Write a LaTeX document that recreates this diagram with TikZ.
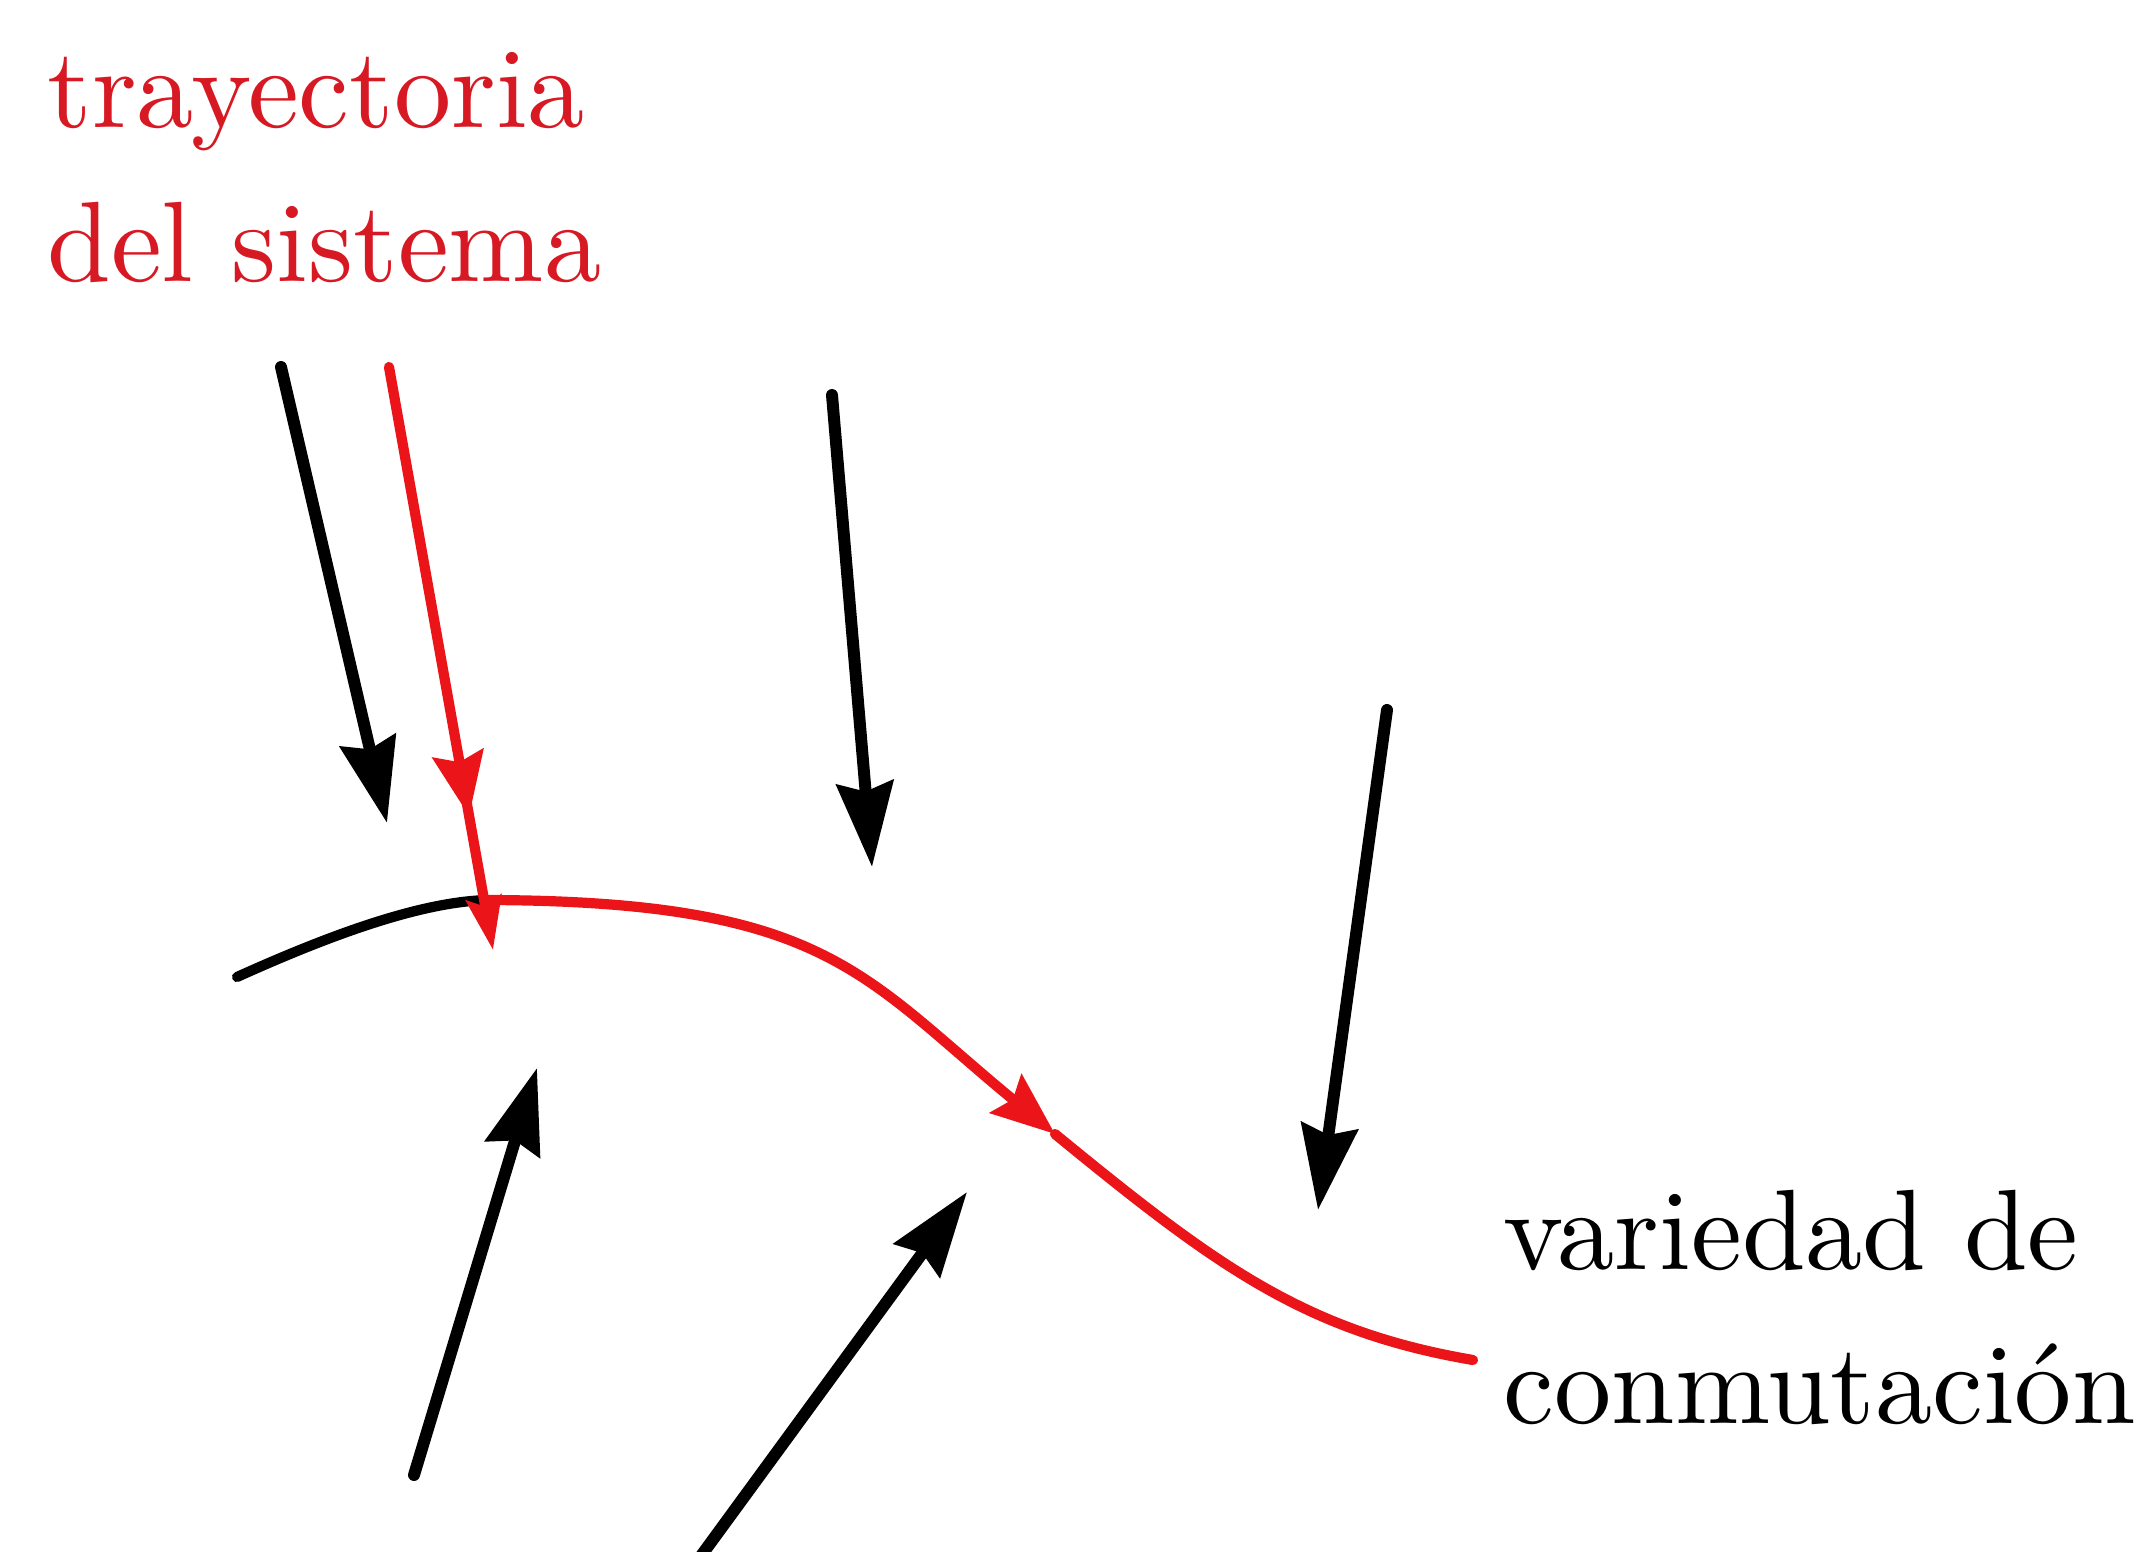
\documentclass[tikz,border=0pt]{standalone}
\usetikzlibrary{arrows.meta,decorations.markings}
\definecolor{trajred}{RGB}{235,20,25}
\definecolor{textred}{RGB}{215,25,35}
\font\lmten="[lmroman10-regular]" at 32.5pt
\begin{document}
\begin{tikzpicture}[x=0.01cm,y=-0.01cm,
  blkarrow/.style={line width=3.4pt, line cap=round, -{Stealth[length=24pt,width=16pt,inset=2.5pt]}},
  curveline/.style={line width=2.9pt, line cap=round},
  redline/.style={trajred, line width=2.9pt, line cap=round},
  redtip/.style={-{Stealth[length=15pt,width=10pt,inset=2.5pt]}},
  redcurvetip/.style={-{Stealth[length=18pt,width=14pt,inset=2.5pt]}},
  midtip/.style={postaction={decorate}, decoration={markings,
      mark=at position #1 with {\arrow{Stealth[length=18pt,width=14.5pt,inset=2.5pt]}}}},
  lbl/.style={inner sep=0pt, align=left, font={\lmten\baselineskip=43.7pt}}
]
\useasboundingbox (0,0) rectangle (2148,1551);

% labels (anchor = baseline of the last line)
\node[lbl, text=textred, anchor=base west] (tray) at (47,281) {trayectoria\\del sistema};
\node[lbl, anchor=base west] (var) at (1503,1423) {variedad de\\conmutación};

% coordinates of arrow ends
\coordinate (a1s) at (281,367);  \coordinate (a1e) at (387,823);
\coordinate (a3s) at (832,395);  \coordinate (a3e) at (872,867);
\coordinate (a4s) at (1387,710); \coordinate (a4e) at (1318,1210);
\coordinate (a5s) at (414,1475); \coordinate (a5e) at (537,1068);
\coordinate (a6s) at (698,1560); \coordinate (a6e) at (967,1192);
\coordinate (rs) at (389,367);   \coordinate (re) at (493,950);
\coordinate (cstart) at (237,977); \coordinate (junc) at (487,900);
\coordinate (infl) at (1055,1134); \coordinate (cend) at (1473,1360);

% switching manifold (black part)
\draw[curveline] (cstart) .. controls (330,935) and (420,902) .. (junc);

% black field arrows
\draw[blkarrow] (a1s) -- (a1e);
\draw[blkarrow] (a3s) -- (a3e);
\draw[blkarrow] (a4s) -- (a4e);
\draw[blkarrow] (a5s) -- (a5e);
\draw[blkarrow] (a6s) -- (a6e);

% system trajectory (red)
\draw[redline, redcurvetip] (junc) .. controls (827,901) and (861.75,975.5) .. (infl);
\draw[redline] (infl) .. controls (1217.3,1267.1) and (1305.4,1331.3) .. (cend);
\draw[redline, redtip, midtip=0.77] (rs) -- (re);
\end{tikzpicture}
\end{document}
